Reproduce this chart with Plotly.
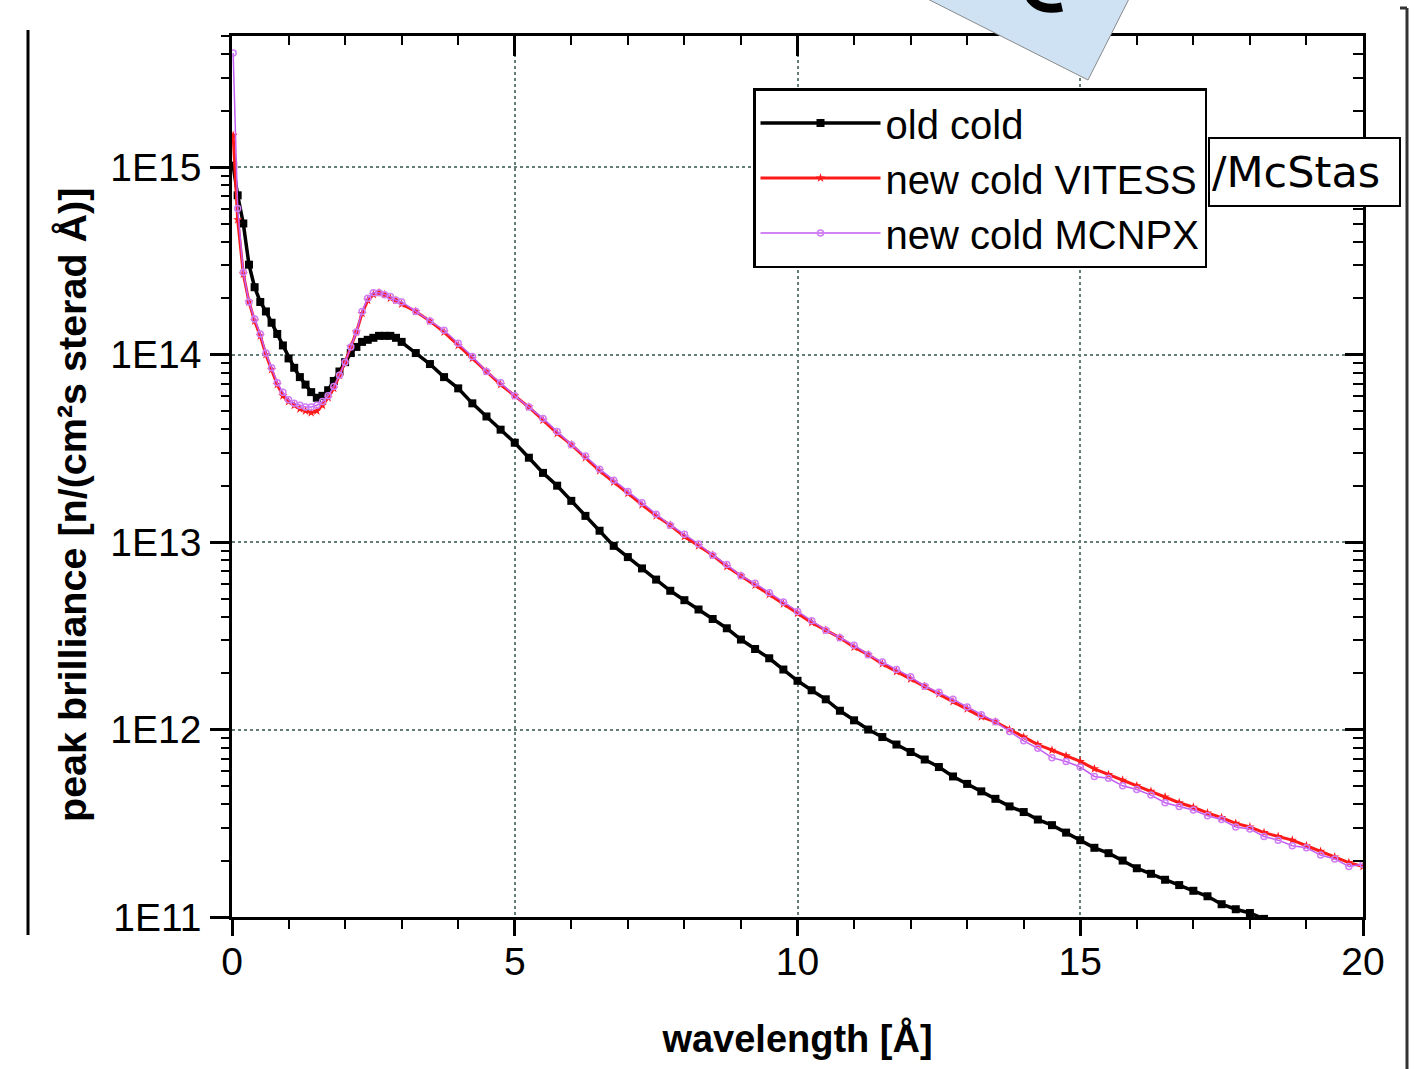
import plotly.graph_objects as go

# ---------------- data ----------------
wavelength = [0.02, 0.1, 0.2, 0.3, 0.4, 0.5, 0.6, 0.7, 0.8, 0.9, 1.0, 1.1, 1.2, 1.3, 1.4, 1.5,
              1.6, 1.7, 1.8, 1.9, 2.0, 2.1, 2.2, 2.3, 2.4, 2.5, 2.6, 2.7, 2.8, 2.9, 3.0,
              3.25, 3.5, 3.75, 4.0, 4.25, 4.5, 4.75, 5.0, 5.25, 5.5, 5.75, 6.0, 6.25, 6.5, 6.75,
              7.0, 7.25, 7.5, 7.75, 8.0, 8.25, 8.5, 8.75, 9.0, 9.25, 9.5, 9.75, 10.0, 10.25,
              10.5, 10.75, 11.0, 11.25, 11.5, 11.75, 12.0, 12.25, 12.5, 12.75, 13.0, 13.25,
              13.5, 13.75, 14.0, 14.25, 14.5, 14.75, 15.0, 15.25, 15.5, 15.75, 16.0, 16.25,
              16.5, 16.75, 17.0, 17.25, 17.5, 17.75, 18.0, 18.25, 18.5, 18.75, 19.0, 19.25,
              19.5, 19.75, 20.0]

old_cold = [1.02e15, 7.08e14, 5.01e14, 3.02e14, 2.29e14, 1.91e14, 1.70e14, 1.48e14, 1.29e14,
            1.12e14, 9.55e13, 8.51e13, 7.59e13, 6.92e13, 6.31e13, 5.89e13, 6.03e13, 6.46e13,
            7.24e13, 8.13e13, 9.12e13, 1.02e14, 1.10e14, 1.17e14, 1.20e14, 1.23e14, 1.26e14,
            1.26e14, 1.26e14, 1.23e14, 1.17e14,
            1.02e14, 8.91e13, 7.59e13, 6.61e13, 5.50e13, 4.68e13, 3.98e13, 3.39e13, 2.82e13,
            2.34e13, 2.00e13, 1.66e13, 1.38e13, 1.15e13, 9.55e12, 8.32e12, 7.24e12, 6.31e12,
            5.50e12, 4.90e12, 4.37e12, 3.89e12, 3.47e12, 3.02e12, 2.69e12, 2.40e12, 2.09e12,
            1.82e12, 1.62e12, 1.45e12, 1.26e12, 1.12e12, 1.00e12, 9.12e11, 8.32e11, 7.59e11,
            6.92e11, 6.31e11, 5.62e11, 5.13e11, 4.68e11, 4.27e11, 3.89e11, 3.63e11, 3.31e11,
            3.09e11, 2.82e11, 2.57e11, 2.34e11, 2.19e11, 2.00e11, 1.82e11, 1.70e11, 1.58e11,
            1.48e11, 1.38e11, 1.29e11, 1.17e11, 1.10e11, 1.05e11, 9.77e10, 9.12e10, 8.51e10,
            7.94e10, 7.41e10, 7.08e10, 6.61e10, 6.17e10]

new_cold_vitess = [1.48e15, 5.25e14, 2.69e14, 1.91e14, 1.51e14, 1.26e14, 1.00e14, 8.32e13,
                   6.92e13, 6.03e13, 5.62e13, 5.37e13, 5.13e13, 5.01e13, 4.90e13, 5.01e13,
                   5.37e13, 5.89e13, 6.61e13, 7.76e13, 9.12e13, 1.10e14, 1.32e14, 1.66e14,
                   1.95e14, 2.09e14, 2.14e14, 2.09e14, 2.00e14, 1.95e14, 1.86e14,
                   1.70e14, 1.51e14, 1.32e14, 1.12e14, 9.55e13, 8.13e13, 6.92e13, 6.03e13,
                   5.25e13, 4.47e13, 3.80e13, 3.31e13, 2.82e13, 2.40e13, 2.09e13, 1.82e13,
                   1.58e13, 1.38e13, 1.23e13, 1.07e13, 9.55e12, 8.51e12, 7.41e12, 6.61e12,
                   5.89e12, 5.25e12, 4.68e12, 4.17e12, 3.72e12, 3.39e12, 3.09e12, 2.75e12,
                   2.51e12, 2.24e12, 2.04e12, 1.86e12, 1.70e12, 1.55e12, 1.41e12, 1.29e12,
                   1.17e12, 1.10e12, 1.00e12, 9.12e11, 8.32e11, 7.76e11, 7.24e11, 6.76e11,
                   6.17e11, 5.75e11, 5.37e11, 5.01e11, 4.68e11, 4.37e11, 4.07e11, 3.85e11,
                   3.59e11, 3.39e11, 3.16e11, 3.02e11, 2.82e11, 2.69e11, 2.57e11, 2.40e11,
                   2.24e11, 2.09e11, 1.95e11, 1.86e11]

new_cold_mcnpx = [4.07e15, 6.03e14, 2.75e14, 1.91e14, 1.55e14, 1.29e14, 1.02e14, 8.51e13,
                  7.08e13, 6.31e13, 5.75e13, 5.50e13, 5.37e13, 5.25e13, 5.25e13, 5.37e13,
                  5.62e13, 6.03e13, 6.76e13, 7.76e13, 9.12e13, 1.10e14, 1.32e14, 1.70e14,
                  2.00e14, 2.14e14, 2.14e14, 2.09e14, 2.04e14, 1.95e14, 1.91e14,
                  1.70e14, 1.51e14, 1.35e14, 1.15e14, 9.77e13, 8.13e13, 7.08e13, 6.03e13,
                  5.25e13, 4.57e13, 3.89e13, 3.31e13, 2.88e13, 2.45e13, 2.14e13, 1.86e13,
                  1.62e13, 1.41e13, 1.23e13, 1.10e13, 9.77e12, 8.51e12, 7.59e12, 6.61e12,
                  6.03e12, 5.37e12, 4.79e12, 4.27e12, 3.80e12, 3.39e12, 3.09e12, 2.82e12,
                  2.51e12, 2.29e12, 2.09e12, 1.91e12, 1.70e12, 1.58e12, 1.45e12, 1.32e12,
                  1.20e12, 1.10e12, 9.77e11, 8.71e11, 7.94e11, 7.08e11, 6.76e11, 6.31e11,
                  5.62e11, 5.50e11, 5.01e11, 4.79e11, 4.47e11, 4.07e11, 3.89e11, 3.72e11,
                  3.47e11, 3.31e11, 3.02e11, 2.95e11, 2.69e11, 2.57e11, 2.40e11, 2.34e11,
                  2.14e11, 2.04e11, 1.86e11, 1.91e11]

y_tick_values = [1e11, 1e12, 1e13, 1e14, 1e15]
y_tick_labels = ["1E11", "1E12", "1E13", "1E14", "1E15"]
y_minor_values = [k * 10.0 ** e for e in range(11, 16) for k in range(2, 10)]

# ---------------- geometry helpers (page pixels -> paper) ----------------
W, H = 1415, 1069
L, R, T, B = 232, 1363, 36, 917


def px(x):
    return (x - L) / (R - L)


def py(y):
    return (B - y) / (B - T)


FONT = "Liberation Sans, Arial, sans-serif"
GRID = "rgb(100,125,118)"

fig = go.Figure()
fig.add_trace(go.Scatter(
    x=wavelength, y=old_cold, name="old cold", mode="lines+markers",
    line=dict(color="black", width=3.5),
    marker=dict(symbol="square", size=8, color="black")))
fig.add_trace(go.Scatter(
    x=wavelength, y=new_cold_vitess, name="new cold VITESS", mode="lines+markers",
    line=dict(color="#ff1a1a", width=3),
    marker=dict(symbol="star", size=7, color="#ff1a1a")))
fig.add_trace(go.Scatter(
    x=wavelength, y=new_cold_mcnpx, name="new cold MCNPX", mode="lines+markers",
    line=dict(color="#c25cf2", width=1.5),
    marker=dict(symbol="circle-open", size=6, color="#cf7ef5", line=dict(width=1.5))))
# empty trace so the mirrored (top/right) axes get drawn
fig.add_trace(go.Scatter(x=[], y=[], xaxis="x2", yaxis="y2", showlegend=False,
                         hoverinfo="skip"))

axis_common = dict(showline=True, linecolor="black", linewidth=2.5, zeroline=False)

fig.update_layout(
    width=W, height=H, autosize=False,
    margin=dict(l=L, r=W - R, t=T, b=H - B, pad=0),
    paper_bgcolor="white", plot_bgcolor="white",
    font=dict(family=FONT, color="black", size=39),
    xaxis=dict(
        range=[0, 20], dtick=5, tick0=0, ticks="outside", ticklen=16, tickwidth=2.5,
        tickcolor="black", tickfont=dict(size=39), ticklabelstandoff=-8,
        showgrid=True, gridcolor=GRID, gridwidth=1.5, griddash="dot",
        minor=dict(dtick=1, ticks="outside", ticklen=9, tickwidth=2, tickcolor="black",
                   showgrid=False),
        title=dict(text="<b>wavelength [Å]</b>", font=dict(size=38), standoff=44),
        **axis_common),
    yaxis=dict(
        type="log", range=[11, 15.7], tickmode="array", tickvals=y_tick_values,
        ticktext=y_tick_labels, ticks="outside", ticklen=19, tickwidth=2.5,
        tickcolor="black", tickfont=dict(size=39), ticklabelstandoff=1,
        showgrid=True, gridcolor=GRID, gridwidth=1.5, griddash="dot",
        minor=dict(tickmode="array", tickvals=y_minor_values, ticks="outside",
                   ticklen=8, tickwidth=2, tickcolor="black", showgrid=False),
        **axis_common),
    xaxis2=dict(
        overlaying="x", side="top", anchor="y2", range=[0, 20], dtick=5, tick0=0,
        ticks="inside", ticklen=20, tickwidth=2.5, tickcolor="black",
        showticklabels=False, showgrid=False,
        minor=dict(dtick=1, ticks="inside", ticklen=9, tickwidth=2, tickcolor="black"),
        **axis_common),
    yaxis2=dict(
        overlaying="y", side="right", anchor="x2", type="log", range=[11, 15.7],
        tickmode="array", tickvals=y_tick_values, ticks="inside", ticklen=18,
        tickwidth=2.5, tickcolor="black", showticklabels=False, showgrid=False,
        minor=dict(tickmode="array", tickvals=y_minor_values, ticks="inside",
                   ticklen=10, tickwidth=2, tickcolor="black"),
        **axis_common),
    legend=dict(
        x=px(753), y=py(88), xanchor="left", yanchor="top",
        bgcolor="white", bordercolor="black", borderwidth=2.5,
        font=dict(family=FONT, size=40, color="black"),
        itemwidth=120, tracegroupgap=0),
    showlegend=True,
)

# y-axis title
fig.add_annotation(
    text="<b>peak brilliance [n/(cm²s sterad Å)]</b>", textangle=-90,
    xref="paper", yref="paper", x=px(72), y=py(505), xanchor="center", yanchor="middle",
    showarrow=False, font=dict(family=FONT, size=39.5, color="black"))

# "/McStas" box overlapping the legend
fig.add_annotation(
    text="/McStas", xref="paper", yref="paper", x=px(1304), y=py(172),
    xanchor="center", yanchor="middle",
    showarrow=False, align="left", width=185, height=62,
    bgcolor="white", bordercolor="black", borderwidth=2, borderpad=2,
    font=dict(family="DejaVu Sans, sans-serif", size=43, color="black"))

# surrounding decorations (page pixel positions converted to paper)
shapes = []
shapes.append(dict(type="line", xref="paper", yref="paper", x0=px(28), x1=px(28),
                   y0=py(30), y1=py(935), line=dict(color="black", width=3)))
shapes.append(dict(type="line", xref="paper", yref="paper", x0=px(1407), x1=px(1407),
                   y0=py(8), y1=py(1075), line=dict(color="#333", width=3)))
shapes.append(dict(type="line", xref="paper", yref="paper", x0=px(1400), x1=px(1407),
                   y0=py(8), y1=py(8), line=dict(color="#333", width=3)))
# rotated light-blue card at the top
bx, by = 1088, 80
ux, uy = -0.893, -0.451
vx, vy = 0.451, -0.893
Lc, Wc = 320, 220
pts = [(bx, by), (bx + Lc * ux, by + Lc * uy),
       (bx + Lc * ux + Wc * vx, by + Lc * uy + Wc * vy), (bx + Wc * vx, by + Wc * vy)]
path = "M " + " L ".join(f"{px(a):.5f},{py(b):.5f}" for a, b in pts) + " Z"
shapes.append(dict(type="path", xref="paper", yref="paper", path=path,
                   fillcolor="#cfe2f3", line=dict(color="#8a8a8a", width=1), layer="above"))
arc = (f"M {px(1030):.5f},{py(-2):.5f} Q {px(1040):.5f},{py(12):.5f} "
       f"{px(1062):.5f},{py(7):.5f}")
shapes.append(dict(type="path", xref="paper", yref="paper", path=arc,
                   line=dict(color="black", width=9), layer="above"))
fig.update_layout(shapes=shapes)

fig.write_html("out.html")
